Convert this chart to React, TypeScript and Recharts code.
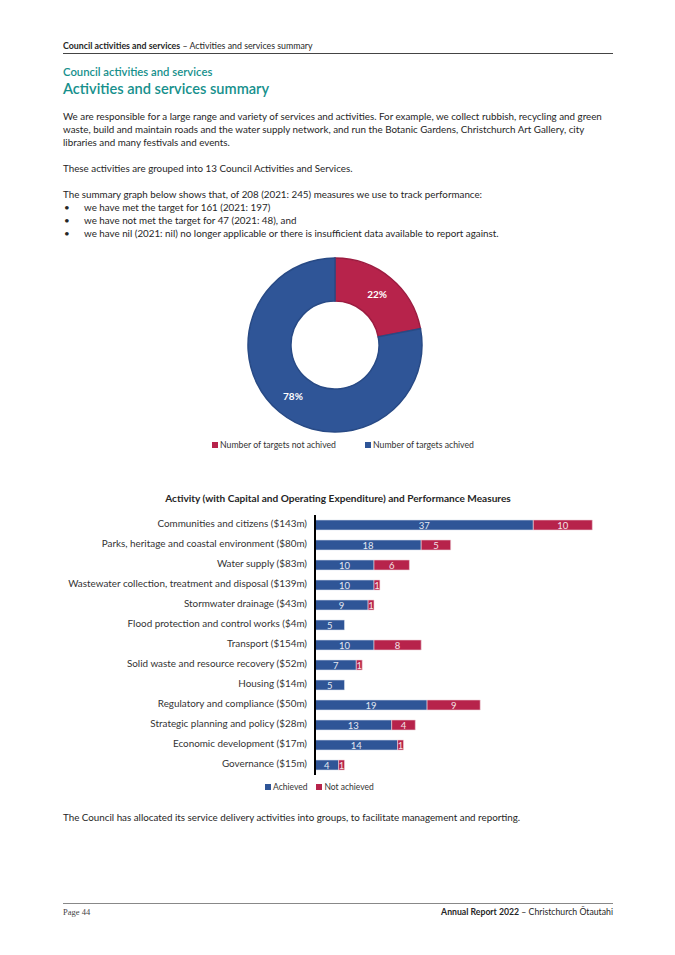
import React from "react";
import { BarChart, Bar, XAxis, YAxis, LabelList, PieChart, Pie, Cell } from "recharts";

const FONT = "Lato, 'Noto Sans', sans-serif";
const BLUE = "#2f5597";
const RED = "#b7234b";
const TEAL = "#16908c";
const INK = "#262626";

// donut
const pieNames = ["Number of targets not achived", "Number of targets achived"];
const pieShares = [22, 78];
const pieColors = [RED, BLUE];
const pieEdges = ["#9c1c40", "#284a85"];

// bars
const activities = [
  "Communities and citizens ($143m)",
  "Parks, heritage and coastal environment ($80m)",
  "Water supply ($83m)",
  "Wastewater collection, treatment and disposal ($139m)",
  "Stormwater drainage ($43m)",
  "Flood protection and control works ($4m)",
  "Transport ($154m)",
  "Solid waste and resource recovery ($52m)",
  "Housing ($14m)",
  "Regulatory and compliance ($50m)",
  "Strategic planning and policy ($28m)",
  "Economic development ($17m)",
  "Governance ($15m)",
];
const achieved = [37, 18, 10, 10, 9, 5, 10, 7, 5, 19, 13, 14, 4];
const notAchieved = [10, 5, 6, 1, 1, 0, 8, 1, 0, 9, 4, 1, 1];
const seriesNames = ["Achieved", "Not achieved"];

const pieData = pieNames.map((name, i) => ({ name, value: pieShares[i] }));
const barData = activities.map((name, i) => ({
  name,
  achieved: achieved[i],
  notAchieved: notAchieved[i],
}));

function Txt({
  top,
  left,
  size,
  color = INK,
  weight = 400,
  children,
  style,
}: {
  top: number;
  left: number;
  size: number;
  color?: string;
  weight?: number;
  children: React.ReactNode;
  style?: React.CSSProperties;
}) {
  return (
    <div
      style={{
        position: "absolute",
        top: top - size * 0.6,
        left,
        fontSize: size,
        lineHeight: `${size * 1.2}px`,
        color,
        fontWeight: weight,
        whiteSpace: "nowrap",
        ...style,
      }}
    >
      {children}
    </div>
  );
}

const RAD = Math.PI / 180;
const pieLabel = (p: any) => {
  const r = 66;
  const x = p.cx + r * Math.cos(-p.midAngle * RAD);
  const y = p.cy + r * Math.sin(-p.midAngle * RAD);
  return (
    <text x={x} y={y} fill="#fff" fontSize={10} fontWeight={700} fontFamily={FONT} textAnchor="middle" dominantBaseline="central">
      {`${p.value}%`}
    </text>
  );
};

const CatTick = (p: any) => (
  <text x={p.x} y={p.y - 2.5} textAnchor="end" dominantBaseline="central" fontSize={9.9} fill="#333" fontFamily={FONT}>
    {p.payload.value}
  </text>
);

const segLabel = (color: string) => (p: any) => {
  if (!p.value) return null;
  return (
    <text
      x={p.x + p.width / 2}
      y={p.y + p.height / 2}
      fill={color}
      fontSize={9.5}
      fontFamily={FONT}
      textAnchor="middle"
      dominantBaseline="central"
    >
      {p.value}
    </text>
  );
};

const Key = ({ color, label, gap }: { color: string; label: string; gap: number }) => (
  <span style={{ display: "inline-flex", alignItems: "center", marginRight: gap }}>
    <span style={{ width: 6, height: 6, background: color, display: "inline-block", marginRight: 2 }} />
    {label}
  </span>
);

export default function App() {
  return (
    <div
      style={{
        position: "absolute",
        left: 0,
        top: 0,
        width: 675,
        height: 955,
        background: "#fff",
        fontFamily: FONT,
        overflow: "hidden",
      }}
    >
      {/* running header */}
      <Txt top={46} left={63} size={8.8}>
        <b>Council activities and services</b> – Activities and services summary
      </Txt>
      <div style={{ position: "absolute", left: 63, top: 53, width: 550, height: 1, background: "#444" }} />

      <Txt top={72} left={63} size={11.3}>
        <span style={{ color: TEAL, fontWeight: 600 }}>Council activities and services</span>
      </Txt>
      <Txt top={89} left={63} size={14.6}>
        <span style={{ color: TEAL, fontWeight: 600 }}>Activities and services summary</span>
      </Txt>

      <Txt top={117} left={63} size={9.8}>
        We are responsible for a large range and variety of services and activities. For example, we collect rubbish, recycling and green
      </Txt>
      <Txt top={130} left={63} size={9.8}>
        waste, build and maintain roads and the water supply network, and run the Botanic Gardens, Christchurch Art Gallery, city
      </Txt>
      <Txt top={143} left={63} size={9.8}>
        libraries and many festivals and events.
      </Txt>
      <Txt top={169} left={63} size={9.8}>
        These activities are grouped into 13 Council Activities and Services.
      </Txt>
      <Txt top={195} left={63} size={9.8}>
        The summary graph below shows that, of 208 (2021: 245) measures we use to track performance:
      </Txt>
      {[
        "we have met the target for 161 (2021: 197)",
        "we have not met the target for 47 (2021: 48), and",
        "we have nil (2021: nil) no longer applicable or there is insufficient data available to report against.",
      ].map((t, i) => (
        <React.Fragment key={i}>
          <Txt top={208 + i * 13} left={64} size={9.8}>
            •
          </Txt>
          <Txt top={208 + i * 13} left={84} size={9.8}>
            {t}
          </Txt>
        </React.Fragment>
      ))}

      {/* donut */}
      <div style={{ position: "absolute", left: 185, top: 250 }}>
        <PieChart width={300} height={190} margin={{ top: 0, right: 0, bottom: 0, left: 0 }}>
          <Pie
            data={pieData}
            dataKey="value"
            nameKey="name"
            cx={150}
            cy={95}
            innerRadius={44}
            outerRadius={87}
            startAngle={90}
            endAngle={-270}
            label={pieLabel}
            labelLine={false}
            isAnimationActive={false}
          >
            {pieData.map((d, i) => (
              <Cell key={d.name} fill={pieColors[i]} stroke={pieEdges[i]} strokeWidth={1.5} />
            ))}
          </Pie>
        </PieChart>
      </div>
      <div
        style={{
          position: "absolute",
          left: 212,
          top: 439,
          display: "flex",
          fontSize: 8.7,
          lineHeight: "12px",
          color: "#333",
          whiteSpace: "nowrap",
        }}
      >
        {pieNames.map((n, i) => (
          <Key key={n} color={pieColors[i]} label={n} gap={29} />
        ))}
      </div>

      {/* bar chart */}
      <Txt top={498} left={0} size={10.1} weight={700} style={{ width: 676, textAlign: "center" }}>
        Activity (with Capital and Operating Expenditure) and Performance Measures
      </Txt>
      <div style={{ position: "absolute", left: 0, top: 505 }}>
        <BarChart
          width={675}
          height={280}
          data={barData}
          layout="vertical"
          barSize={10}
          margin={{ top: 10, right: 65, bottom: 10, left: 0 }}
        >
          <XAxis type="number" domain={[0, 50]} hide />
          <YAxis
            type="category"
            dataKey="name"
            width={315}
            tick={CatTick}
            tickLine={false}
            axisLine={{ stroke: "#000", strokeWidth: 2 }}
            interval={0}
          />
          <Bar dataKey="achieved" name={seriesNames[0]} stackId="a" fill={BLUE} stroke="#d9e0ec" strokeWidth={0.6} isAnimationActive={false}>
            <LabelList dataKey="achieved" content={segLabel("#e4e9f2")} />
          </Bar>
          <Bar dataKey="notAchieved" name={seriesNames[1]} stackId="a" fill={RED} stroke="#eed3da" strokeWidth={0.6} isAnimationActive={false}>
            <LabelList dataKey="notAchieved" content={segLabel("#f3e3e8")} />
          </Bar>
        </BarChart>
      </div>
      <div
        style={{
          position: "absolute",
          left: 265,
          top: 781,
          display: "flex",
          fontSize: 8.5,
          lineHeight: "12px",
          color: "#333",
          whiteSpace: "nowrap",
        }}
      >
        <Key color={BLUE} label={seriesNames[0]} gap={9} />
        <Key color={RED} label={seriesNames[1]} gap={0} />
      </div>

      <Txt top={818} left={63} size={9.8}>
        The Council has allocated its service delivery activities into groups, to facilitate management and reporting.
      </Txt>

      {/* footer */}
      <div style={{ position: "absolute", left: 63, top: 903, width: 550, height: 1, background: "#888" }} />
      <Txt top={912} left={63} size={8.5} style={{ fontFamily: "'Liberation Serif', serif", color: "#444" }}>
        Page 44
      </Txt>
      <Txt top={912} left={313} size={8.7} style={{ width: 300, textAlign: "right" }}>
        <b>Annual Report 2022</b> – Christchurch Ōtautahi
      </Txt>
    </div>
  );
}
